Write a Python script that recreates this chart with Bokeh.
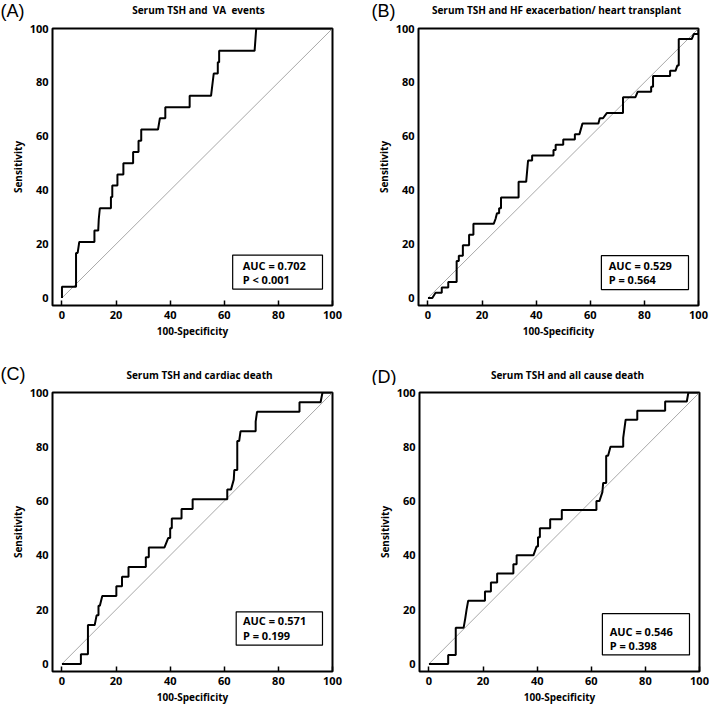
from bokeh.plotting import figure
from bokeh.layouts import column, row
from bokeh.models import Range1d, Label, BoxAnnotation, FixedTicker
from bokeh.core.properties import value
from bokeh.embed import file_html
from bokeh.resources import INLINE

# ---------------- data ----------------
A_fpr = [0, 0, 5.2, 5.2, 5.8, 6.4, 12.0, 12.0, 13.4, 13.6, 14.0, 18.1, 18.1, 18.6, 18.6, 20.5, 20.5, 22.7, 22.7, 26.3,
         26.3, 28.3, 28.3, 29.3, 29.3, 35.5, 36.2, 38.2, 38.2, 47.2, 47.2, 55.1, 56.1, 57.6, 57.6, 58.1, 58.1, 71.2, 71.5, 71.8, 100]
A_tpr = [0, 4.2, 4.2, 16.7, 16.7, 20.8, 20.8, 25.0, 25.0, 29.2, 33.3, 33.3, 37.5, 37.5, 41.7, 41.7, 45.8, 45.8, 50.0, 50.0,
         54.2, 54.2, 58.3, 58.3, 62.5, 62.5, 66.7, 66.7, 70.8, 70.8, 75.0, 75.0, 83.3, 83.3, 87.5, 87.5, 91.7, 91.7, 95.8, 100, 100]

B_fpr = [0, 1.6, 2.8, 5.1, 5.1, 7.5, 7.5, 10.6, 10.6, 11.4, 11.4, 12.9, 12.9, 15.2, 15.2, 16.8, 16.8, 24.3, 25.0, 25.5,
         26.3, 26.3, 27.0, 27.0, 33.5, 33.5, 36.3, 37.0, 38.5, 38.5, 46.4, 46.4, 47.2, 47.2, 50.0, 50.0, 54.3, 54.3, 56.0, 57.1,
         63.0, 63.5, 64.7, 66.1, 72.1, 72.1, 76.7, 77.5, 82.5, 82.5, 83.2, 83.2, 89.5, 89.5, 91.5, 92.2, 92.7, 92.7, 97.5, 98.3,
         100, 100]
B_tpr = [0, 0, 1.96, 1.96, 3.9, 3.9, 5.9, 5.9, 13.7, 13.7, 15.7, 15.7, 19.6, 19.6, 23.5, 23.5, 27.5, 27.5, 29.4, 31.4,
         31.4, 33.3, 33.3, 37.3, 37.3, 43.1, 43.1, 51.0, 51.0, 52.9, 52.9, 54.9, 54.9, 56.9, 56.9, 58.8, 58.8, 60.8, 60.8, 64.7,
         64.7, 66.7, 66.7, 68.6, 68.6, 74.5, 74.5, 76.5, 76.5, 78.4, 78.4, 82.4, 82.4, 84.3, 84.3, 86.3, 86.3, 96.1, 96.1, 98.0,
         98.0, 100]

C_fpr = [0, 7.0, 7.0, 9.6, 9.6, 12.1, 12.8, 13.5, 13.5, 14.0, 14.9, 20.1, 20.1, 22.2, 22.2, 24.6, 24.6, 31.0, 31.0, 32.1,
         32.1, 37.9, 39.3, 40.0, 40.0, 40.6, 40.6, 44.2, 44.2, 48.3, 48.3, 61.1, 61.1, 62.5, 63.5, 63.7, 64.8, 64.8, 65.5, 66.0,
         71.6, 71.6, 72.1, 87.8, 87.8, 95.6, 96.3, 100]
C_tpr = [0, 0, 3.6, 3.6, 14.3, 14.3, 17.9, 17.9, 21.4, 21.4, 25.0, 25.0, 28.6, 28.6, 32.1, 32.1, 35.7, 35.7, 39.3, 39.3,
         42.9, 42.9, 46.4, 46.4, 50.0, 50.0, 53.6, 53.6, 57.1, 57.1, 60.7, 60.7, 64.3, 64.3, 67.9, 71.4, 71.4, 82.1, 82.1, 85.7,
         85.7, 89.3, 92.9, 92.9, 96.4, 96.4, 100, 100]

D_fpr = [0, 7.1, 7.1, 9.9, 9.9, 12.8, 13.4, 13.9, 14.5, 20.7, 20.7, 22.9, 22.9, 25.2, 25.2, 31.2, 31.2, 32.4, 32.4, 38.6,
         39.8, 40.3, 40.3, 41.0, 41.0, 44.8, 44.8, 49.1, 49.1, 61.9, 61.9, 63.0, 64.1, 64.4, 65.5, 65.5, 66.2, 67.1, 71.8, 71.8,
         72.7, 77.0, 77.0, 87.3, 87.3, 95.3, 95.9, 100]
D_tpr = [0, 0, 3.3, 3.3, 13.3, 13.3, 16.7, 20.0, 23.3, 23.3, 26.7, 26.7, 30.0, 30.0, 33.3, 33.3, 36.7, 36.7, 40.0, 40.0,
         43.3, 43.3, 46.7, 46.7, 50.0, 50.0, 53.3, 53.3, 56.7, 56.7, 60.0, 60.0, 63.3, 66.7, 66.7, 76.7, 76.7, 80.0, 80.0, 83.3,
         90.0, 90.0, 93.3, 93.3, 96.7, 96.7, 100, 100]

letters = ["(A)", "(B)", "(C)", "(D)"]
titles = ["Serum TSH and\u00a0 VA\u00a0 events",
          "Serum TSH and HF exacerbation/ heart transplant",
          "Serum TSH and cardiac death",
          "Serum TSH and all cause death"]
auc_texts = ["AUC = 0.702", "AUC = 0.529", "AUC = 0.571", "AUC = 0.546"]
p_texts = ["P < 0.001", "P = 0.564", "P = 0.199", "P = 0.398"]
x_ticks = [0, 20, 40, 60, 80, 100]
y_ticks = [0, 20, 40, 60, 80, 100]
chance_x = [0, 100]
chance_y = [0, 100]

# ---------------- layout / style constants ----------------
FONT = "Open Sans"
XMIN, YMIN = -3.5, -2.8
# W: width, HH: header height, H: plot height, borders; header text positions (px)
LAYOUT = [
    dict(W=354, HH=21, H=319, bt=7, bl=52, br=22, bb=35, lx=0, ly=10.5, tx=198, ty=9),
    dict(W=355, HH=21, H=319, bt=7, bl=64, br=11, bb=35, lx=17, ly=10.5, tx=202, ty=9),
    dict(W=354, HH=45, H=321, bt=7, bl=52, br=22, bb=35, lx=0, ly=33, tx=199, ty=34),
    dict(W=355, HH=45, H=321, bt=7, bl=65, br=10, bb=35, lx=17, ly=36, tx=213, ty=34),
]
# AUC box (data units): left, right, bottom, top, text x, line1 y, line2 y
BOXES = [
    (63.1, 96.3, 3.3, 15.9, 66.8, 11.9, 7.0),
    (64.1, 96.3, 3.1, 15.7, 66.8, 12.1, 6.8),
    (64.4, 96.3, 6.9, 19.2, 66.9, 16.0, 10.6),
    (64.1, 96.3, 3.3, 18.5, 66.8, 12.1, 6.9),
]

curves = [(A_fpr, A_tpr), (B_fpr, B_tpr), (C_fpr, C_tpr), (D_fpr, D_tpr)]


def make_header(i):
    L = LAYOUT[i]
    h = figure(width=L["W"], height=L["HH"], x_range=Range1d(0, L["W"]), y_range=Range1d(L["HH"], 0),
               output_backend="svg", toolbar_location=None, x_axis_type=None, y_axis_type=None,
               min_border=0, min_border_left=0, min_border_right=0, min_border_top=0, min_border_bottom=0)
    h.frame_align = False
    h.outline_line_color = None
    h.grid.visible = False
    h.background_fill_color = "white"
    h.border_fill_color = "white"
    h.text(x=[L["lx"]], y=[L["ly"]], text=[letters[i]], text_font=value("Liberation Sans"),
           text_font_size="18px", text_color="black", text_baseline="middle", text_align="left")
    h.text(x=[L["tx"]], y=[L["ty"]], text=[titles[i]], text_font=value(FONT), text_font_style="bold",
           text_font_size="10px", text_color="black", text_baseline="middle", text_align="center")
    return h


def make_panel(i):
    L = LAYOUT[i]
    fpr, tpr = curves[i]
    p = figure(width=L["W"], height=L["H"], x_range=Range1d(XMIN, 100), y_range=Range1d(YMIN, 100),
               output_backend="svg", toolbar_location=None,
               min_border_left=L["bl"], min_border_right=L["br"],
               min_border_top=L["bt"], min_border_bottom=L["bb"])
    p.frame_align = False
    p.grid.visible = False
    p.outline_line_color = "black"
    p.outline_line_width = 2
    p.background_fill_color = "white"
    p.border_fill_color = "white"

    p.xaxis.ticker = FixedTicker(ticks=x_ticks)
    p.yaxis.ticker = FixedTicker(ticks=y_ticks)
    p.xaxis.axis_label = "100-Specificity"
    p.yaxis.axis_label = "Sensitivity"
    for ax in (p.xaxis, p.yaxis):
        ax.axis_line_color = None
        ax.minor_tick_line_color = None
        ax.major_tick_line_color = "black"
        ax.major_tick_line_width = 1.5
        ax.major_label_text_font = FONT
        ax.major_label_text_font_style = "bold"
        ax.major_label_text_font_size = "11px"
        ax.major_label_text_color = "black"
        ax.axis_label_text_font = FONT
        ax.axis_label_text_font_style = "bold"
        ax.axis_label_text_font_size = "10px"
        ax.axis_label_text_color = "black"
        ax.axis_label_standoff = 2
    p.xaxis.major_tick_in = 5
    p.xaxis.major_tick_out = 0
    p.xaxis.major_label_standoff = 5
    p.yaxis.major_tick_in = 0
    p.yaxis.major_tick_out = 0
    p.yaxis.major_label_standoff = 4

    p.line(chance_x, chance_y, line_color="#a8a8a8", line_width=1)
    p.line(fpr, tpr, line_color="black", line_width=2)

    bl_, br_, bb_, bt_, tx, ty1, ty2 = BOXES[i]
    p.add_layout(BoxAnnotation(left=bl_, right=br_, bottom=bb_, top=bt_,
                               fill_color="white", fill_alpha=1.0,
                               line_color="black", line_width=1.2, line_alpha=1.0))
    for ty, txt in ((ty1, auc_texts[i]), (ty2, p_texts[i])):
        p.add_layout(Label(x=tx, y=ty, text=txt, text_font=FONT, text_font_style="bold",
                           text_font_size="11px", text_color="black", text_baseline="middle",
                           text_align="left"))
    return p


cells = [column(make_header(i), make_panel(i)) for i in range(4)]
layout = column(row(cells[0], cells[1]), row(cells[2], cells[3]))

with open("out.html", "w") as f:
    f.write(file_html(layout, INLINE))
